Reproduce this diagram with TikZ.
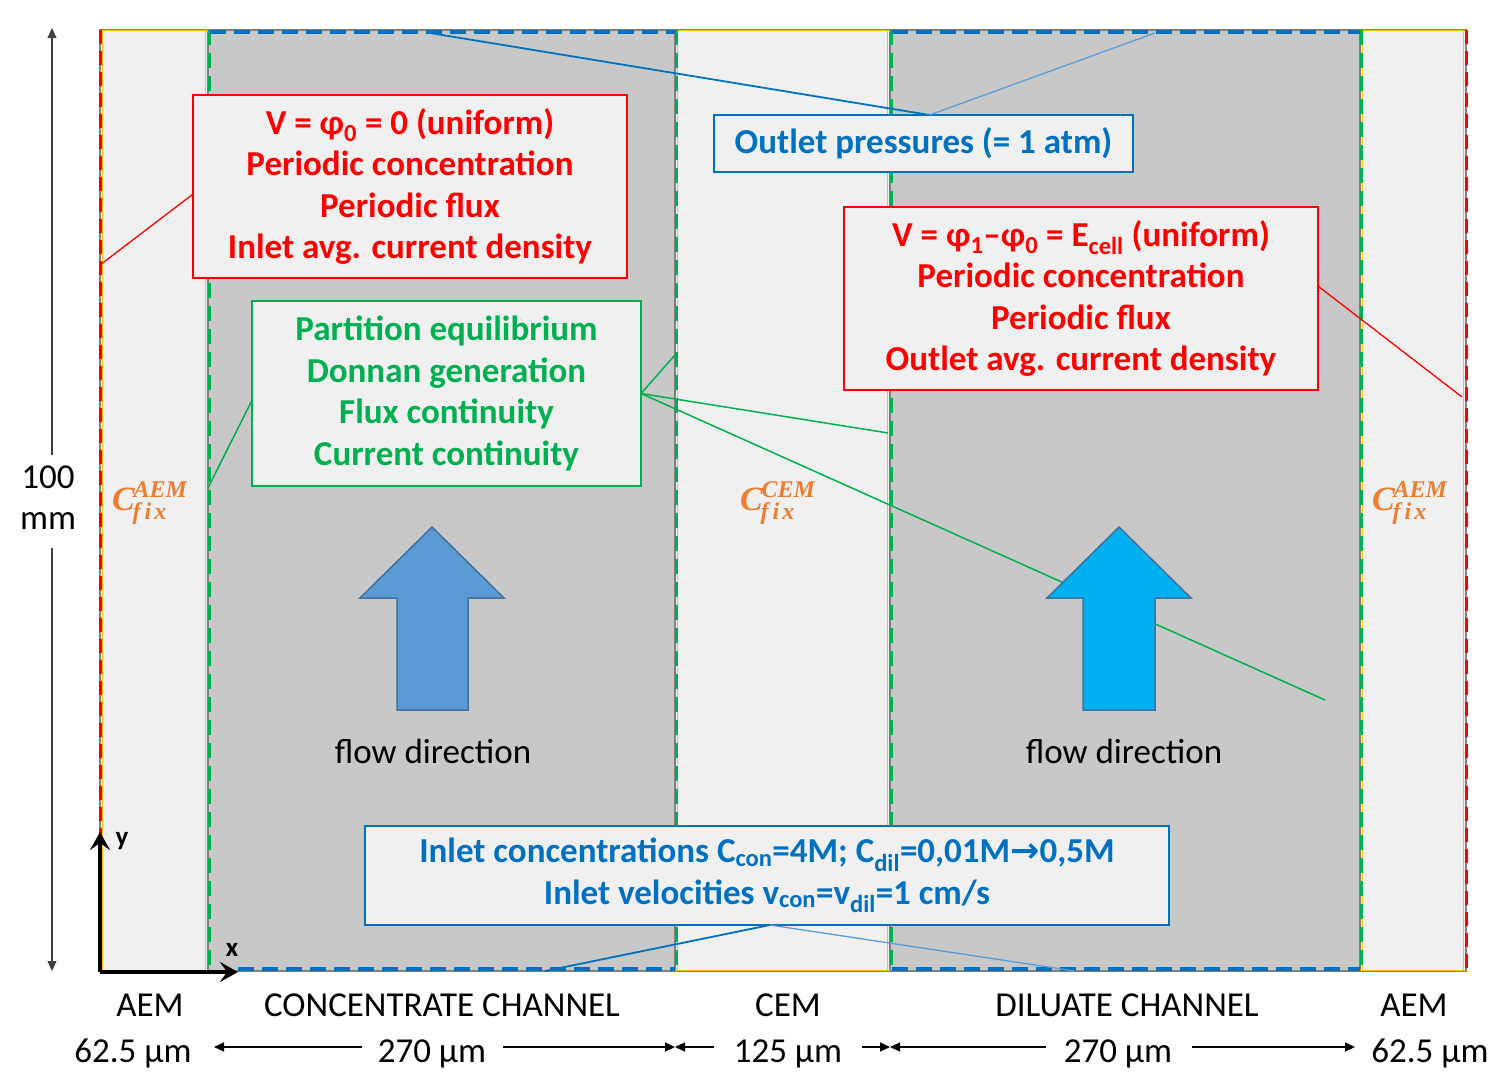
\documentclass[tikz,border=0pt]{standalone}
\usepackage{fontspec}
\setmainfont{Carlito}
\newfontfamily\djv{DejaVu Sans}
\newfontfamily\fixfont{Liberation Serif}[UprightFont=* Bold Italic]
\usetikzlibrary{arrows.meta,calc}
\definecolor{lgray}{HTML}{F0F0F0}
\definecolor{dgray}{HTML}{C8C8C8}
\definecolor{edgegray}{HTML}{7F7F7F}
\definecolor{myred}{HTML}{FF0000}
\definecolor{mygreen}{HTML}{00B050}
\definecolor{myblue}{HTML}{0070C0}
\definecolor{lightblue}{HTML}{5B9BD5}
\definecolor{myyellow}{HTML}{FFC000}
\definecolor{myorange}{HTML}{ED7D31}
\definecolor{arrowA}{HTML}{5B9BD5}
\definecolor{arrowB}{HTML}{00B0F0}
\definecolor{arrowborder}{HTML}{41719C}
\newcommand{\cfixlabel}[1]{\fixfont\fontsize{34}{34}\selectfont C\fontsize{24}{24}\selectfont\rlap{\raisebox{13pt}{\kern-1pt #1}}\raisebox{-9pt}{\kern-2pt f\kern4pt i\kern3pt x}}
\begin{document}
\begin{tikzpicture}[x=1pt,y=-1pt,
  every node/.style={inner sep=0pt, outer sep=0pt},
  lbl/.style={font=\fontsize{35}{40}\selectfont, text=black, anchor=base},
  boxtext/.style={font=\bfseries\fontsize{35}{41.5}\selectfont, align=center, fill=lgray, line width=1.6},
  redbox/.style={boxtext, draw=myred, text=myred},
  greenbox/.style={boxtext, draw=mygreen, text=mygreen},
  bluebox/.style={boxtext, draw=myblue, text=myblue},
  fixlbl/.style={text=myorange, anchor=base west},
  redlink/.style={draw=myred, line width=1.3},
  greenlink/.style={draw=mygreen, line width=1.5},
  bluelink/.style={draw=myblue, line width=1.8},
  bluelinklight/.style={draw=lightblue, line width=1.3},
  dimline/.style={draw=black, line width=1.1, -{Triangle[length=10pt,width=9pt]}},
  axisline/.style={draw=black, line width=3.2, -{Stealth[length=18pt,width=20pt,inset=7pt]}},
  axislbl/.style={font=\bfseries\fontsize{27}{27}\selectfont},
  flowarrow/.style={draw=arrowborder, line width=1.5},
  edgeline/.style={draw=edgegray, line width=1.2},
  yel/.style={draw=myyellow, line width=1.6},
  reddash/.style={draw=myred, line width=3, dash pattern=on 14pt off 7pt},
  greendash/.style={draw=mygreen, line width=3, dash pattern=on 15pt off 8pt},
  bluedash/.style={draw=myblue, line width=4, dash pattern=on 16pt off 8pt},
]
\useasboundingbox (0,0) rectangle (1503,1079);
\fill[white] (0,0) rectangle (1503,1079);

% regions
\fill[lgray] (100,30) rectangle (208,971);
\fill[dgray] (208,30) rectangle (675,971);
\fill[lgray] (675,30) rectangle (890,971);
\fill[dgray] (890,30) rectangle (1360,971);
\fill[lgray] (1360,30) rectangle (1466,971);

% boundaries
\draw[edgeline] (100,30) rectangle (1466,971);
\foreach \xx in {208,675,890,1360} \draw[edgeline] (\xx,30) -- (\xx,971);
\draw[yel] (100,30.5) -- (208,30.5) (675,30.5) -- (890,30.5) (1360,30.5) -- (1466,30.5);
\draw[yel] (100,970.5) -- (208,970.5) (675,970.5) -- (890,970.5) (1360,970.5) -- (1466,970.5);
\draw[yel] (102.5,30) -- (102.5,971) (205.5,30) -- (205.5,971)
           (677.5,30) -- (677.5,971) (887.5,30) -- (887.5,971)
           (1362.5,30) -- (1362.5,971) (1463.5,30) -- (1463.5,971);
\draw[reddash] (100,30) -- (100,971);
\draw[reddash] (1466,30) -- (1466,971);
\foreach \xx in {208,675,890,1360} \draw[greendash] (\xx+1,30) -- (\xx+1,971);
\draw[bluedash] (210,32) -- (675,32);
\draw[bluedash] (892,32) -- (1360,32);
\draw[bluedash] (238,969) -- (675,969);
\draw[bluedash] (892,969) -- (1360,969);

% connector end points
\coordinate (r1end) at (100,265);
\coordinate (b1endL) at (430,33);
\coordinate (b1endR) at (1155,33);
\coordinate (r2end) at (1462,397);
\coordinate (gendA) at (208,488);
\coordinate (gendB) at (675,355);
\coordinate (gendC) at (888,433);
\coordinate (gendD) at (1325,700);
\coordinate (b2endL) at (545,971);
\coordinate (b2endR) at (1075,971);

% boxes
\node[redbox, minimum width=434pt, minimum height=183pt] (r1) at (410,186.5)
  {V = φ\textsubscript{0} = 0 (uniform)\\Periodic concentration\\Periodic flux\\Inlet avg. current density};
\node[bluebox, minimum width=419pt, minimum height=57pt] (b1) at (923.5,143.5)
  {Outlet pressures (= 1 atm)};
\node[redbox, minimum width=474pt, minimum height=183pt] (r2) at (1081,298.5)
  {V = φ\textsubscript{1}–φ\textsubscript{0} = E\textsubscript{cell} (uniform)\\Periodic concentration\\Periodic flux\\Outlet avg. current density};
\node[greenbox, minimum width=389pt, minimum height=185pt] (g) at (446.5,393.5)
  {Partition equilibrium\\Donnan generation\\Flux continuity\\Current continuity};
\node[bluebox, minimum width=804pt, minimum height=99pt] (b2) at (767,875.5)
  {Inlet concentrations C\textsubscript{con}=4M; C\textsubscript{dil}=0,01M{\djv\bfseries →}0,5M\\Inlet velocities v\textsubscript{con}=v\textsubscript{dil}=1 cm/s};

% connectors
\draw[redlink] (r1.182) -- (r1end);
\draw[bluelink] ($(b1.north)+(6,0)$) -- (b1endL);
\draw[bluelinklight] ($(b1.north)+(6,0)$) -- (b1endR);
\draw[redlink] (r2.3) -- (r2end);
\draw[greenlink] (g.182) -- (gendA);
\draw[greenlink] (g.east) -- (gendB);
\draw[greenlink] (g.east) -- (gendC);
\draw[greenlink] (g.east) -- (gendD);
\draw[bluelink] ($(b2.south)+(3,0)$) -- (b2endL);
\draw[bluelinklight] ($(b2.south)+(3,0)$) -- (b2endR);

% fixed charge labels
\node[fixlbl] (fixA) at (112,510) {\cfixlabel{AEM}};
\node[fixlbl] (fixC) at (740,510) {\cfixlabel{CEM}};
\node[fixlbl] (fixB) at (1372,510) {\cfixlabel{AEM}};

% flow arrows
\draw[flowarrow, fill=arrowA] (397,710) -- (397,598) -- (360,598) -- (432,527) -- (504,598) -- (468,598) -- (468,710) -- cycle;
\draw[flowarrow, fill=arrowB] (1083,710) -- (1083,598) -- (1047,598) -- (1119,527) -- (1191,598) -- (1155,598) -- (1155,710) -- cycle;
\node[lbl] (flowA) at (433,763) {flow direction};
\node[lbl] (flowB) at (1124,763) {flow direction};

% axes
\coordinate (origin) at (100,972);
\coordinate (ytip) at (100,832);
\coordinate (xtip) at (238,972);
\draw[axisline] (origin) -- (ytip);
\draw[axisline] (origin) -- (xtip);
\node[axislbl, anchor=base] (ylab) at (122,845) {y};
\node[axislbl, anchor=base] (xlab) at (232,956) {x};

% height dimension
\node[lbl] (h100) at (48,488) {100};
\node[lbl] (hmm) at (48,529) {mm};
\coordinate (htop) at (52,28);
\coordinate (hbot) at (52,971);
\coordinate (hA) at (52,455);
\coordinate (hB) at (52,548);
\draw[dimline, draw=black!75] (hA) -- (htop);
\draw[dimline, draw=black!75] (hB) -- (hbot);

% bottom labels
\node[lbl] (nAEM1) at (150,1016) {AEM};
\node[lbl] (nCON) at (442,1016) {CONCENTRATE CHANNEL};
\node[lbl] (nCEM) at (788,1016) {CEM};
\node[lbl] (nDIL) at (1127,1016) {DILUATE CHANNEL};
\node[lbl] (nAEM2) at (1414,1016) {AEM};

\node[lbl] (w1) at (133,1062) {62.5 μm};
\node[lbl] (w2) at (432,1062) {270 μm};
\node[lbl] (w3) at (788,1062) {125 μm};
\node[lbl] (w4) at (1118,1062) {270 μm};
\node[lbl] (w5) at (1430,1062) {62.5 μm};

\coordinate (a1s) at (362,1047); \coordinate (a1e) at (214,1047);
\coordinate (a2s) at (503,1047); \coordinate (a2e) at (675,1047);
\coordinate (a3s) at (714,1047); \coordinate (a3e) at (675,1047);
\coordinate (a4s) at (862,1047); \coordinate (a4e) at (890,1047);
\coordinate (a5s) at (1046,1047); \coordinate (a5e) at (890,1047);
\coordinate (a6s) at (1192,1047); \coordinate (a6e) at (1355,1047);
\draw[dimline] (a1s) -- (a1e);
\draw[dimline] (a2s) -- (a2e);
\draw[dimline] (a3s) -- (a3e);
\draw[dimline] (a4s) -- (a4e);
\draw[dimline] (a5s) -- (a5e);
\draw[dimline] (a6s) -- (a6e);
\end{tikzpicture}
\end{document}
